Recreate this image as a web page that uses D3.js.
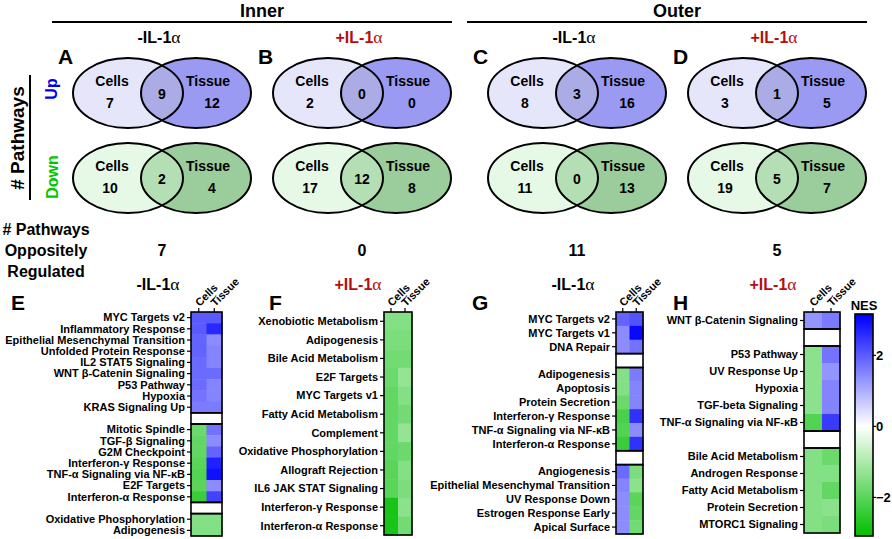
<!DOCTYPE html>
<html>
<head>
<meta charset="utf-8">
<script src="https://cdn.jsdelivr.net/npm/d3@7"></script>
<style>
  body { margin: 0; background: #fff; }
  text { font-family: "Liberation Sans", Arial, sans-serif; font-weight: bold; }
</style>
</head>
<body>
<script>
// venn counts, one entry per panel A-D
var regions = ['Inner', 'Outer'];
var treatments = ['-IL-1α', '+IL-1α'];
var vennLetters = ['A', 'B', 'C', 'D'];
var upCells = [7, 2, 8, 3];
var upShared = [9, 0, 3, 1];
var upTissue = [12, 0, 16, 5];
var downCells = [10, 17, 11, 19];
var downShared = [2, 12, 0, 5];
var downTissue = [4, 8, 13, 7];
var opposite = [7, 0, 11, 5];

// heatmaps E-H (null = gap row)
var heatLetters = ['E', 'F', 'G', 'H'];
var pathE = ['MYC Targets v2', 'Inflammatory Response', 'Epithelial Mesenchymal Transition', 'Unfolded Protein Response',
  'IL2 STAT5 Signaling', 'WNT β-Catenin Signaling', 'P53 Pathway', 'Hypoxia', 'KRAS Signaling Up', null,
  'Mitotic Spindle', 'TGF-β Signaling', 'G2M Checkpoint', 'Interferon-γ Response', 'TNF-α Signaling via NF-κB',
  'E2F Targets', 'Interferon-α Response', null, 'Oxidative Phosphorylation', 'Adipogenesis'];
var cellsE = [2.0, 2.0, 1.9, 1.9, 1.8, 1.8, 1.8, 1.7, 1.6, null, -1.8, -1.9, -1.9, -2.0, -2.1, -2.0, -2.4, null, -1.5, -1.5];
var tissueE = [2.0, 2.6, 1.4, 1.5, 1.5, 1.8, 1.5, 1.5, 1.6, null, 1.7, 1.4, 1.9, 2.7, 2.9, 1.4, 2.3, null, -1.5, -1.5];

var pathF = ['Xenobiotic Metabolism', 'Adipogenesis', 'Bile Acid Metabolism', 'E2F Targets', 'MYC Targets v1',
  'Fatty Acid Metabolism', 'Complement', 'Oxidative Phosphorylation', 'Allograft Rejection', 'IL6 JAK STAT Signaling',
  'Interferon-γ Response', 'Interferon-α Response'];
var cellsF = [-1.5, -1.6, -1.7, -1.8, -1.9, -1.9, -1.9, -1.9, -2.0, -2.0, -2.8, -2.8];
var tissueF = [-1.5, -1.6, -1.7, -1.3, -1.5, -1.7, -1.3, -1.8, -1.5, -1.6, -1.4, -1.7];

var pathG = ['MYC Targets v2', 'MYC Targets v1', 'DNA Repair', null, 'Adipogenesis', 'Apoptosis', 'Protein Secretion',
  'Interferon-γ Response', 'TNF-α Signaling via NF-κB', 'Interferon-α Response', null, 'Angiogenesis',
  'Epithelial Mesenchymal Transition', 'UV Response Down', 'Estrogen Response Early', 'Apical Surface'];
var cellsG = [1.9, 1.4, 1.4, null, -1.5, -1.5, -1.8, -2.2, -2.1, -2.4, null, 1.8, 1.5, 1.4, 1.4, 1.4];
var tissueG = [2.1, 3.0, 1.7, null, 1.6, 1.5, 1.5, 2.5, 1.4, 2.5, null, -1.6, -1.4, -2.0, -1.9, -1.7];

var pathH = ['WNT β-Catenin Signaling', null, 'P53 Pathway', 'UV Response Up', 'Hypoxia', 'TGF-beta Signaling',
  'TNF-α Signaling via NF-κB', null, 'Bile Acid Metabolism', 'Androgen Response', 'Fatty Acid Metabolism',
  'Protein Secretion', 'MTORC1 Signaling'];
var cellsH = [1.3, null, -1.4, -1.4, -1.4, -1.4, -2.1, null, -1.5, -1.5, -1.5, -1.5, -1.5];
var tissueH = [1.6, null, 1.7, 1.3, 1.5, 1.5, 2.4, null, -1.8, -1.5, -1.9, -1.4, -1.6];

var columns = ['Cells', 'Tissue'];
var nesTicks = [-2, 0, 2];

var width = 892, height = 539;
var red = '#b40f0f';

var svg = d3.select('body').append('svg')
  .attr('width', width).attr('height', height);

var color = d3.scaleLinear().domain([-3.1, 0, 3.1])
  .range(['#00be00', '#ffffff', '#0000ff']);

// panel x positions: region offset + treatment offset
var regionX = d3.scaleOrdinal().domain(regions).range([0, 415]);
var treatX = d3.scaleOrdinal().domain(treatments).range([128, 328]);
var panelX = function(i) {
  return regionX(regions[Math.floor(i / 2)]) + treatX(treatments[i % 2]);
};

// alpha drawn lighter, like the symbol font
var label = function(sel, str) {
  var parts = str.split('α');
  sel.append('tspan').text(parts[0]);
  sel.append('tspan').attr('font-weight', 'normal')
    .attr('font-family', 'Liberation Serif, serif').attr('font-size', '1.1em').text('α');
};

// region headers
regions.forEach(function(r, k) {
  var x0 = regionX(r) + 52, x1 = regionX(r) + 452;
  svg.append('text').attr('x', (x0 + x1) / 2 + 10).attr('y', 17)
    .attr('text-anchor', 'middle').attr('font-size', 18).text(r);
  svg.append('line').attr('x1', x0).attr('x2', x1).attr('y1', 22).attr('y2', 22)
    .attr('stroke', '#000').attr('stroke-width', 2);
});

var defs = svg.append('defs');
var rx = 55, ry = 35;

var drawVenn = function(i, cy, counts, fills, key) {
  var L = panelX(i), R = L + 68;
  var id = 'clip' + key + i;
  defs.append('clipPath').attr('id', id).append('ellipse')
    .attr('cx', L).attr('cy', cy).attr('rx', rx).attr('ry', ry);
  var g = svg.append('g');
  g.append('ellipse').attr('cx', L).attr('cy', cy).attr('rx', rx).attr('ry', ry).attr('fill', fills[0]);
  g.append('ellipse').attr('cx', R).attr('cy', cy).attr('rx', rx).attr('ry', ry).attr('fill', fills[1]);
  g.append('ellipse').attr('cx', R).attr('cy', cy).attr('rx', rx).attr('ry', ry).attr('fill', fills[2])
    .attr('clip-path', 'url(#' + id + ')');
  [L, R].forEach(function(cx) {
    g.append('ellipse').attr('cx', cx).attr('cy', cy).attr('rx', rx).attr('ry', ry)
      .attr('fill', 'none').attr('stroke', '#000').attr('stroke-width', 2);
  });
  var t = [
    {x: L - 16, y: cy - 7, s: 'Cells'},
    {x: L - 18, y: cy + 15, s: counts[0]},
    {x: L + 34, y: cy + 6, s: counts[1]},
    {x: R + 12, y: cy - 7, s: 'Tissue'},
    {x: R + 16, y: cy + 15, s: counts[2]}
  ];
  g.selectAll('text.v').data(t).enter().append('text')
    .attr('x', function(d) { return d.x; })
    .attr('y', function(d) { return d.y; })
    .attr('text-anchor', 'middle').attr('font-size', 14)
    .text(function(d) { return d.s; });
};

vennLetters.forEach(function(letter, i) {
  var L = panelX(i);
  var tr = treatments[i % 2];
  label(svg.append('text').attr('x', L + 31).attr('y', 43).attr('text-anchor', 'middle')
    .attr('font-size', 16).attr('fill', i % 2 ? red : '#000'), tr);
  svg.append('text').attr('x', L - 70).attr('y', 64).attr('font-size', 21).text(letter);
  drawVenn(i, 93, [upCells[i], upShared[i], upTissue[i]], ['#e6e6fa', '#9a9af2', '#ababe6'], 'u');
  drawVenn(i, 178, [downCells[i], downShared[i], downTissue[i]], ['#e6f8e6', '#9bcc9b', '#b4dfb4'], 'd');
  svg.append('text').attr('x', L + 34).attr('y', 256).attr('text-anchor', 'middle')
    .attr('font-size', 16).text(opposite[i]);
  label(svg.append('text').attr('x', L + 30).attr('y', 290).attr('text-anchor', 'middle')
    .attr('font-size', 16).attr('fill', i % 2 ? red : '#000'), tr);
});

// left side labels
svg.append('text').attr('transform', 'translate(24,138) rotate(-90)')
  .attr('text-anchor', 'middle').attr('font-size', 19).text('# Pathways');
svg.append('line').attr('x1', 30).attr('x2', 30).attr('y1', 75).attr('y2', 200)
  .attr('stroke', '#000').attr('stroke-width', 2);
svg.append('text').attr('transform', 'translate(57,89) rotate(-90)')
  .attr('text-anchor', 'middle').attr('font-size', 16).attr('fill', '#0000ee').text('Up');
svg.append('text').attr('transform', 'translate(58,177) rotate(-90)')
  .attr('text-anchor', 'middle').attr('font-size', 16).attr('fill', '#00c800').text('Down');
['# Pathways', 'Oppositely', 'Regulated'].forEach(function(s, k) {
  svg.append('text').attr('x', 46).attr('y', 235 + k * 21).attr('text-anchor', 'middle')
    .attr('font-size', 16).text(s);
});

// heatmaps
var heatLayout = [
  {x0: 191, x1: 222, top: 312, bottom: 536, lx: 11},
  {x0: 384, x1: 412, top: 312, bottom: 535, lx: 269},
  {x0: 616, x1: 643, top: 312, bottom: 534, lx: 472},
  {x0: 804, x1: 840, top: 312, bottom: 533, lx: 673}
];
var heatData = [[pathE, cellsE, tissueE], [pathF, cellsF, tissueF], [pathG, cellsG, tissueG], [pathH, cellsH, tissueH]];

heatData.forEach(function(hd, p) {
  var lay = heatLayout[p];
  var paths = hd[0];
  var idx = d3.range(paths.length);
  var y = d3.scaleBand().domain(idx).range([lay.top, lay.bottom]);
  var x = d3.scaleBand().domain(columns).range([lay.x0, lay.x1]);
  var g = svg.append('g');

  svg.append('text').attr('x', lay.lx).attr('y', 310).attr('font-size', 21).text(heatLetters[p]);

  var cells = [];
  idx.forEach(function(r) {
    if (paths[r] === null) return;
    cells.push({r: r, c: 'Cells', v: hd[1][r]});
    cells.push({r: r, c: 'Tissue', v: hd[2][r]});
  });
  g.selectAll('rect.cell').data(cells).enter().append('rect')
    .attr('x', function(d) { return x(d.c); })
    .attr('y', function(d) { return y(d.r); })
    .attr('width', x.bandwidth() + 0.5)
    .attr('height', y.bandwidth() + 0.5)
    .attr('fill', function(d) { return color(d.v); });

  // block outlines, gaps are boxed too
  var blocks = [];
  var start = 0;
  idx.forEach(function(r) {
    if (paths[r] === null) {
      if (r > start) blocks.push([start, r - 1]);
      blocks.push([r, r]);
      start = r + 1;
    }
  });
  blocks.push([start, paths.length - 1]);
  g.selectAll('rect.block').data(blocks).enter().append('rect')
    .attr('x', lay.x0)
    .attr('y', function(d) { return y(d[0]); })
    .attr('width', lay.x1 - lay.x0)
    .attr('height', function(d) { return y(d[1]) + y.bandwidth() - y(d[0]); })
    .attr('fill', 'none').attr('stroke', '#000').attr('stroke-width', 1.6);

  var labelled = idx.filter(function(r) { return paths[r] !== null; });
  g.selectAll('line.tick').data(labelled).enter().append('line')
    .attr('x1', lay.x0 - 4).attr('x2', lay.x0)
    .attr('y1', function(d) { return y(d) + y.bandwidth() / 2; })
    .attr('y2', function(d) { return y(d) + y.bandwidth() / 2; })
    .attr('stroke', '#000').attr('stroke-width', 1.2);
  g.selectAll('text.lab').data(labelled).enter().append('text')
    .attr('x', lay.x0 - 6)
    .attr('y', function(d) { return y(d) + y.bandwidth() / 2; })
    .attr('dy', '0.35em').attr('text-anchor', 'end').attr('font-size', 11)
    .text(function(d) { return paths[d]; });

  columns.forEach(function(c) {
    var cx = x(c) + x.bandwidth() / 2;
    g.append('line').attr('x1', cx).attr('x2', cx).attr('y1', lay.top - 4).attr('y2', lay.top)
      .attr('stroke', '#000').attr('stroke-width', 1.2);
    g.append('text').attr('transform', 'translate(' + (cx + 1) + ',' + (lay.top - 5) + ') rotate(-45)')
      .attr('font-size', 11).text(c);
  });
});

// colour bar
var cb = {x: 855, w: 18, top: 314, bottom: 536};
var ny = d3.scaleLinear().domain([-3.1, 3.15]).range([cb.bottom, cb.top]);
var grad = defs.append('linearGradient').attr('id', 'nesgrad')
  .attr('x1', 0).attr('x2', 0).attr('y1', 1).attr('y2', 0);
[-3.1, 0, 3.1].forEach(function(v) {
  grad.append('stop').attr('offset', (ny(v) - cb.bottom) / (cb.top - cb.bottom))
    .attr('stop-color', color(v));
});
svg.append('rect').attr('x', cb.x).attr('y', cb.top).attr('width', cb.w)
  .attr('height', cb.bottom - cb.top).attr('fill', 'url(#nesgrad)')
  .attr('stroke', '#000').attr('stroke-width', 1.6);
svg.append('text').attr('x', cb.x + cb.w / 2).attr('y', 310).attr('text-anchor', 'middle')
  .attr('font-size', 13).text('NES');
var axis = d3.axisRight(ny).tickValues(nesTicks).tickSize(3).tickFormat(d3.format('d'));
var ag = svg.append('g').attr('transform', 'translate(' + (cb.x + cb.w) + ',0)').call(axis);
ag.select('.domain').remove();
ag.selectAll('text').attr('font-size', 13).attr('font-weight', 'normal')
  .attr('font-family', 'Liberation Sans, Arial, sans-serif').attr('x', 3);
ag.selectAll('line').attr('stroke-width', 1.2);
</script>
</body>
</html>
